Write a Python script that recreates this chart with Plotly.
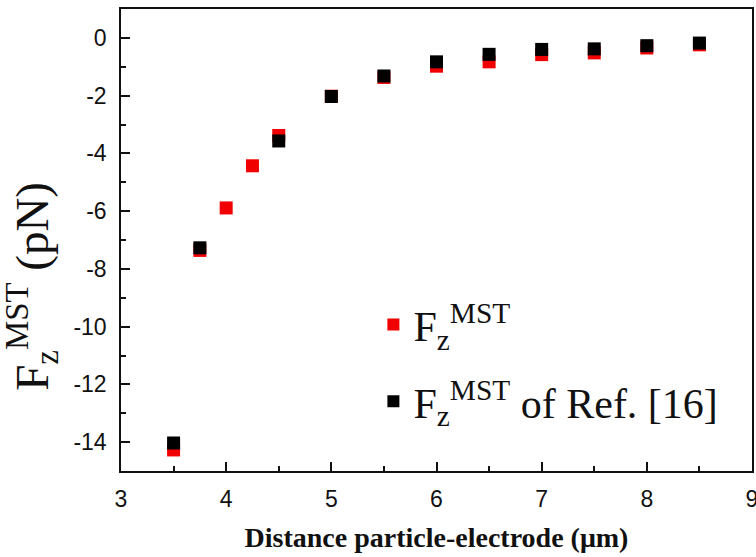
import plotly.graph_objects as go

# Data
distance = [3.5, 3.75, 4.0, 4.25, 4.5, 5.0, 5.5, 6.0, 6.5, 7.0, 7.5, 8.0, 8.5]
fz_mst = [-14.27, -7.36, -5.89, -4.43, -3.38, -2.02, -1.37, -0.98, -0.83, -0.58, -0.52, -0.35, -0.24]

distance_ref = [3.5, 3.75, 4.5, 5.0, 5.5, 6.0, 6.5, 7.0, 7.5, 8.0, 8.5]
fz_mst_ref = [-14.03, -7.27, -3.57, -2.03, -1.32, -0.83, -0.57, -0.40, -0.38, -0.27, -0.18]

x_ticks = [3, 4, 5, 6, 7, 8, 9]
y_ticks = [0, -2, -4, -6, -8, -10, -12, -14]

serif = "Liberation Serif, Times New Roman, serif"
sans = "Liberation Sans, Arial, sans-serif"

fig = go.Figure()
fig.add_trace(go.Scatter(
    x=distance, y=fz_mst, mode="markers",
    name="F<sub>z</sub><sup>MST</sup>", legendgroup="a",
    marker=dict(symbol="square", size=13, color="#f00000"),
))
fig.add_trace(go.Scatter(
    x=distance_ref, y=fz_mst_ref, mode="markers",
    name="F<sub>z</sub><sup>MST</sup> of Ref. [16]", legendgroup="b",
    marker=dict(symbol="square", size=13, color="#000000"),
))

axis_common = dict(
    showline=True, linecolor="#111111", linewidth=1.5, mirror=True,
    ticks="inside", ticklen=9, tickwidth=1.5, tickcolor="#111111",
    showgrid=False, zeroline=False,
    tickfont=dict(family=sans, size=23, color="#111111"),
    ticklabeloverflow="allow",
)

fig.update_xaxes(
    range=[3, 9], tickvals=x_ticks, ticktext=[str(v) for v in x_ticks],
    minor=dict(ticks="inside", ticklen=5, tickwidth=1.5, tickcolor="#111111", dtick=0.5, tick0=3),
    ticklabelstandoff=7,
    title=dict(text="<b>Distance particle-electrode (μm)</b>",
               font=dict(family=serif, size=28, color="#111111"), standoff=16),
    **axis_common,
)
fig.update_yaxes(
    range=[-15, 1], tickvals=y_ticks, ticktext=[str(v) for v in y_ticks],
    minor=dict(ticks="inside", ticklen=5, tickwidth=1.5, tickcolor="#111111", dtick=1, tick0=0),
    ticklabelstandoff=8,
    **axis_common,
)

fig.add_annotation(
    text="F<sub>z</sub><sup>MST</sup> (pN)",
    xref="paper", yref="paper", x=-0.14, y=0.40,
    xanchor="center", yanchor="middle", textangle=-90, showarrow=False,
    font=dict(family=serif, size=47, color="#111111"),
)

fig.update_layout(
    width=756, height=557,
    margin=dict(l=121, r=4, t=9, b=86, autoexpand=False),
    plot_bgcolor="white", paper_bgcolor="white",
    showlegend=True,
    legend=dict(
        x=0.40, y=0.39, xanchor="left", yanchor="top",
        bgcolor="rgba(0,0,0,0)",
        font=dict(family=serif, size=42, color="#111111"),
        tracegroupgap=19, itemsizing="constant",
    ),
)

fig.write_html("out.html")
